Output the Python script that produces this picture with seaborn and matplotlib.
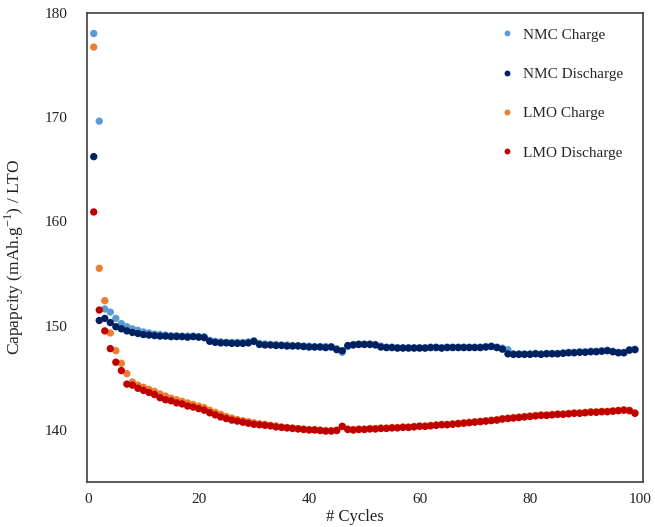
import numpy as np
import pandas as pd
import matplotlib
matplotlib.use("Agg")
import matplotlib.pyplot as plt
import seaborn as sns
from matplotlib.ticker import MultipleLocator

# cycle numbers 1..99
cycles = list(range(1, 100))

nmc_charge = [
    178.0, 169.6, 151.6, 151.3, 150.7, 150.2, 149.9, 149.7, 149.55, 149.4,
    149.3, 149.2, 149.15, 149.1, 149.05, 149.05, 149.0, 149.0, 149.0, 148.95,
    148.95, 148.6, 148.5, 148.45, 148.4, 148.4, 148.4, 148.4, 148.45, 148.55,
    148.3, 148.25, 148.2, 148.2, 148.15, 148.15, 148.1, 148.1, 148.05, 148.05,
    148.0, 148.0, 148.0, 148.0, 147.8, 147.45, 148.0, 148.2, 148.25, 148.25,
    148.25, 148.2, 148.05, 147.95, 147.95, 147.9, 147.9, 147.9, 147.9, 147.9,
    147.9, 147.95, 147.95, 147.9, 147.95, 147.95, 147.95, 147.95, 147.95, 147.95,
    147.95, 148.0, 148.05, 147.95, 147.85, 147.7, 147.3, 147.3, 147.3, 147.3,
    147.35, 147.3, 147.35, 147.35, 147.35, 147.4, 147.45, 147.45, 147.5, 147.5,
    147.55, 147.55, 147.6, 147.65, 147.55, 147.45, 147.45, 147.7, 147.75,
]

nmc_discharge = [
    166.2, 150.5, 150.7, 150.3, 149.9, 149.7, 149.5, 149.35, 149.25, 149.15,
    149.1, 149.05, 149.0, 149.0, 148.95, 148.95, 148.95, 148.9, 148.95, 148.9,
    148.85, 148.5, 148.4, 148.35, 148.35, 148.3, 148.3, 148.3, 148.35, 148.5,
    148.2, 148.15, 148.15, 148.1, 148.1, 148.05, 148.05, 148.05, 148.0, 147.95,
    147.95, 147.95, 147.9, 147.95, 147.7, 147.6, 148.1, 148.15, 148.2, 148.2,
    148.2, 148.15, 147.95, 147.9, 147.9, 147.85, 147.85, 147.85, 147.85, 147.85,
    147.85, 147.9, 147.9, 147.85, 147.9, 147.9, 147.9, 147.9, 147.9, 147.9,
    147.9, 147.95, 148.0, 147.9, 147.75, 147.3, 147.25, 147.25, 147.25, 147.25,
    147.3, 147.25, 147.3, 147.3, 147.3, 147.35, 147.4, 147.4, 147.45, 147.45,
    147.5, 147.5, 147.55, 147.6, 147.5, 147.4, 147.4, 147.65, 147.7,
]

lmo_charge = [
    176.7, 155.5, 152.4, 149.3, 147.6, 146.4, 145.4, 144.6, 144.3, 144.1,
    143.9, 143.7, 143.45, 143.25, 143.05, 142.9, 142.75, 142.6, 142.45, 142.3,
    142.15, 141.9, 141.7, 141.5, 141.3, 141.15, 141.0, 140.9, 140.8, 140.7,
    140.6, 140.55, 140.45, 140.4, 140.3, 140.25, 140.2, 140.15, 140.1, 140.05,
    140.05, 140.0, 139.95, 139.95, 140.0, 140.35, 140.1, 140.05, 140.1, 140.1,
    140.15, 140.15, 140.2, 140.2, 140.25, 140.25, 140.3, 140.3, 140.35, 140.4,
    140.4, 140.45, 140.5, 140.55, 140.55, 140.6, 140.65, 140.7, 140.75, 140.8,
    140.85, 140.9, 140.95, 141.0, 141.1, 141.15, 141.2, 141.25, 141.3, 141.35,
    141.4, 141.45, 141.45, 141.5, 141.55, 141.55, 141.6, 141.65, 141.65, 141.7,
    141.75, 141.75, 141.8, 141.8, 141.85, 141.9, 141.95, 141.9, 141.65,
]

lmo_discharge = [
    160.9, 151.5, 149.5, 147.8, 146.5, 145.7, 144.4, 144.3, 144.0, 143.8,
    143.6, 143.4, 143.1, 142.9, 142.8, 142.6, 142.5, 142.3, 142.2, 142.05,
    141.9, 141.65, 141.45, 141.25, 141.1, 140.95, 140.85, 140.75, 140.65, 140.55,
    140.5, 140.45, 140.4, 140.3, 140.25, 140.2, 140.15, 140.1, 140.05, 140.0,
    140.0, 139.95, 139.9, 139.9, 139.95, 140.35, 140.05, 140.0, 140.05, 140.05,
    140.1, 140.1, 140.15, 140.15, 140.2, 140.2, 140.25, 140.25, 140.3, 140.35,
    140.35, 140.4, 140.45, 140.5, 140.5, 140.55, 140.6, 140.65, 140.7, 140.75,
    140.8, 140.85, 140.9, 140.95, 141.05, 141.1, 141.15, 141.2, 141.25, 141.3,
    141.35, 141.4, 141.4, 141.45, 141.5, 141.5, 141.55, 141.6, 141.6, 141.65,
    141.7, 141.7, 141.75, 141.75, 141.8, 141.85, 141.9, 141.85, 141.6,
]

series_names = ["NMC Charge", "NMC Discharge", "LMO Charge", "LMO Discharge"]
series_colors = ["#5b9bd5", "#002060", "#ed7d31", "#c00000"]

# long-form table for seaborn
frames = []
for name, vals in zip(series_names, [nmc_charge, nmc_discharge, lmo_charge, lmo_discharge]):
    frames.append(pd.DataFrame({"cycle": cycles, "capacity": vals, "series": name}))
df = pd.concat(frames, ignore_index=True)

sns.set_style("white")
plt.rcParams["font.family"] = ["Liberation Serif", "DejaVu Serif"]
plt.rcParams["font.size"] = 11

fig = plt.figure(figsize=(6.55, 5.27), dpi=100)
ax = fig.add_axes([0.133, 0.085, 0.849, 0.891])

sns.scatterplot(data=df, x="cycle", y="capacity", hue="series",
                hue_order=series_names, palette=series_colors,
                s=28, linewidth=0, ax=ax)

ax.set_xlim(-0.2, 100.5)
ax.set_ylim(135, 180)
ax.xaxis.set_major_locator(MultipleLocator(20))
ax.yaxis.set_minor_locator(MultipleLocator(5))
ax.set_yticks([140, 150, 160, 170, 180])

ax.tick_params(axis="both", which="both", direction="in", colors="#404040",
               labelcolor="#222222", labelsize=11)
ax.tick_params(axis="y", which="major", length=4, pad=14)
ax.tick_params(axis="y", which="minor", length=4)
ax.tick_params(axis="x", which="major", length=4, pad=8)

for sp in ax.spines.values():
    sp.set_color("#404040")
    sp.set_linewidth(1.2)

ax.set_xlabel("# Cycles", fontsize=12, color="#222222")
ax.set_ylabel(r"Capapcity (mAh.g$^{\mathregular{-1}}$) / LTO", fontsize=12.5,
              color="#222222")
ax.xaxis.set_label_coords(0.481, -0.058)
ax.yaxis.set_label_coords(-0.11, 0.479)

ax.legend(loc="upper right", bbox_to_anchor=(0.992, 1.0), frameon=False,
          fontsize=11, markerscale=0.8, handlelength=1.0, handletextpad=0.6,
          labelspacing=1.68, borderaxespad=0.6)

fig.savefig("out.png", dpi=100)
